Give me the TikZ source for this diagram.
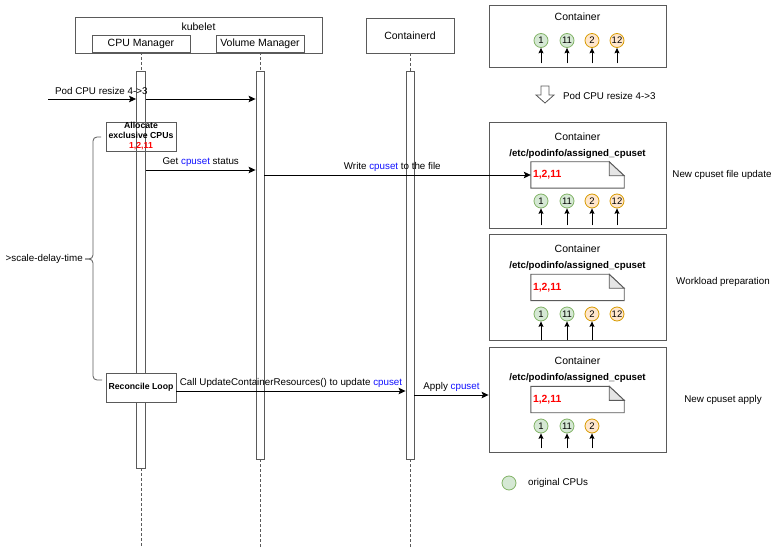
\documentclass[tikz,border=0pt]{standalone}
\usepackage{fontspec}
\setmainfont{Liberation Sans}
\usetikzlibrary{positioning,arrows.meta,calc}
\definecolor{cpugreen}{HTML}{D5E8D4}
\definecolor{cpugreenline}{HTML}{82B366}
\definecolor{cpuorange}{HTML}{FFE6CC}
\definecolor{cpuorangeline}{HTML}{D79B00}
\definecolor{linegray}{HTML}{5A5A5A}
\definecolor{cpured}{HTML}{FF0000}
\definecolor{cpublue}{HTML}{1010FF}
\newcommand{\cpusettxt}{\textcolor{cpublue}{cpuset}}

\begin{document}
\begin{tikzpicture}[
  x=1pt,y=-1pt,
  font=\fontsize{9.8}{11}\selectfont,
  hdr/.style={draw=linegray,line width=0.9pt,inner sep=0,font=\fontsize{10.5}{12}\selectfont},
  bar/.style={draw=linegray,line width=0.9pt,fill=white,inner sep=0,minimum width=9},
  life/.style={draw=linegray,line width=0.8pt,dash pattern=on 2.5pt off 2.5pt},
  act/.style={draw=linegray,line width=0.9pt,inner sep=0,minimum width=70,minimum height=29,align=center,font=\fontsize{8.7}{10}\selectfont\bfseries},
  msg/.style={draw=black,line width=0.8pt,-{Stealth[length=7pt,width=6.5pt,inset=1.5pt]}},
  cont/.style={draw=linegray,line width=0.9pt,inner sep=0,minimum width=177},
  ctitle/.style={font=\fontsize{10.5}{12}\selectfont},
  cpath/.style={font=\fontsize{9.7}{11}\selectfont\bfseries},
  note/.style={inner sep=0,minimum width=93,minimum height=26},
  notel/.style={draw=linegray,line width=0.9pt,fill=white},
  numtxt/.style={font=\fontsize{10.4}{12}\selectfont\bfseries,text=cpured,inner sep=0},
  cpuo/.style={circle,draw=cpugreenline,fill=cpugreen,line width=0.8pt,minimum size=14,inner sep=0,font=\fontsize{9.5}{10}\selectfont},
  cpun/.style={circle,draw=cpuorangeline,fill=cpuorange,line width=0.8pt,minimum size=14,inner sep=0,font=\fontsize{9.5}{10}\selectfont},
  cpuin/.style={draw=black,line width=0.8pt,-{Stealth[length=5.5pt,width=5pt,inset=1pt]}}
]
\useasboundingbox (0,0) rectangle (777,548);

% participants
\node[hdr,minimum width=247,minimum height=36] (kubelet) at (198.5,35.5) {};
\node[ctitle] (kubelettxt) at (198.5,27) {kubelet};
\node[hdr,fill=white,minimum width=98,minimum height=17] (cpumgr) at (141,43.5) {CPU Manager};
\node[hdr,fill=white,minimum width=88,minimum height=17] (volmgr) at (260,43.5) {Volume Manager};
\node[hdr,minimum width=88,minimum height=35] (ctd) at (410,35.5) {Containerd};

% lifelines
\coordinate (cpuend) at (141,548);
\coordinate (volend) at (260,548);
\coordinate (ctdend) at (410,548);
\node[bar,minimum height=397] (cpubar) at (141,269.5) {};
\node[bar,minimum height=388,minimum width=8] (volbar) at (260,265) {};
\node[bar,minimum height=388,minimum width=8] (ctdbar) at (410,265) {};
\draw[life] (cpumgr.south) -- (cpubar.north);
\draw[life] (cpubar.south) -- (cpuend);
\draw[life] (volmgr.south) -- (volbar.north);
\draw[life] (volbar.south) -- (volend);
\draw[life] (ctd.south) -- (ctdbar.north);
\draw[life] (ctdbar.south) -- (ctdend);

\node[act] (alloc) at (141,136.5) {Allocate\\exclusive CPUs\\\textcolor{cpured}{1,2,11}};
\node[act,fill=white] (recon) at (141,387.5) {Reconcile Loop};

% delay brace
\draw[draw=linegray,line width=0.8pt,rounded corners=4pt] (101,137) -- (93,137) -- (93,259) -- (85,259);
\draw[draw=linegray,line width=0.8pt,rounded corners=4pt] (102,380) -- (93,380) -- (93,259) -- (85,259);
\node[anchor=east,inner sep=0] (delay) at (83,259) {>scale-delay-time};

% messages
\coordinate (podin) at (48,99);
\node[anchor=west,inner sep=0] (podlbl) at (55,91) {Pod CPU resize 4->3};
\draw[msg] (podin) -- (cpubar.west |- podin);
\draw[msg] (cpubar.east |- podin) -- (volbar.west |- podin);
\draw[msg] (cpubar.east |- 0,170) -- node[above] {Get \cpusettxt{} status} (volbar.west |- 0,170);
\draw[msg] (recon.east |- 0,391) -- node[above] {Call UpdateContainerResources() to update \cpusettxt} (ctdbar.west |- 0,391);

% containers
\node[cont,minimum height=62] (cont0) at (577.5,36) {};
\node[ctitle] (t0) at (577.5,17) {Container};
\node[cpuo] (c01) at (541,40.5) {1};
\node[cpuo] (c011) at (567,40.5) {11};
\node[cpun] (c02) at (592,40.5) {2};
\node[cpun] (c012) at (617,40.5) {12};
\draw[cpuin] ($(c01.south |- cont0.south)+(0,-4)$) -- (c01.south);
\draw[cpuin] ($(c011.south |- cont0.south)+(0,-4)$) -- (c011.south);
\draw[cpuin] ($(c02.south |- cont0.south)+(0,-4)$) -- (c02.south);
\draw[cpuin] ($(c012.south |- cont0.south)+(0,-4)$) -- (c012.south);

\draw[draw=linegray,line width=0.8pt,fill=white] (541,86) -- (549,86) -- (549,95) -- (554,95) -- (545,103) -- (536,95) -- (541,95) -- cycle;
\node[anchor=west,inner sep=0] (resize) at (563,96) {Pod CPU resize 4->3};

\node[cont,minimum height=106] (cont1) at (577.5,175) {};
\node[ctitle] (t1) at (577.5,137) {Container};
\node[cpath] (p1) at (577.5,154) {/etc/podinfo/assigned\_cpuset};
\node[note] (note1) at (577.5,175) {};
\draw[notel] (note1.north west) -- ([xshift=-15pt]note1.north east) -- ([yshift=-14pt]note1.north east) -- (note1.south east) -- (note1.south west) -- cycle;
\draw[notel,fill=black!10] ([xshift=-15pt]note1.north east) -- ([xshift=-15pt,yshift=-14pt]note1.north east) -- ([yshift=-14pt]note1.north east) -- cycle;
\node[numtxt,anchor=west] (n1) at ([xshift=2pt]note1.west) {1,2,11};
\node[cpuo] (c11) at (541,201) {1};
\node[cpuo] (c111) at (567,201) {11};
\node[cpun] (c12) at (592,201) {2};
\node[cpun] (c112) at (617,201) {12};
\draw[cpuin] ($(c11.south |- cont1.south)+(0,-3)$) -- (c11.south);
\draw[cpuin] ($(c111.south |- cont1.south)+(0,-3)$) -- (c111.south);
\draw[cpuin] ($(c12.south |- cont1.south)+(0,-3)$) -- (c12.south);
\draw[cpuin] ($(c112.south |- cont1.south)+(0,-3)$) -- (c112.south);
\node (r1) at (722,175) {New cpuset file update};

\node[cont,minimum height=106] (cont2) at (577.5,287) {};
\node[ctitle] (t2) at (577.5,249) {Container};
\node[cpath] (p2) at (577.5,266) {/etc/podinfo/assigned\_cpuset};
\node[note] (note2) at (577.5,287.5) {};
\draw[notel] (note2.north west) -- ([xshift=-15pt]note2.north east) -- ([yshift=-14pt]note2.north east) -- (note2.south east) -- (note2.south west) -- cycle;
\draw[notel,fill=black!10] ([xshift=-15pt]note2.north east) -- ([xshift=-15pt,yshift=-14pt]note2.north east) -- ([yshift=-14pt]note2.north east) -- cycle;
\node[numtxt,anchor=west] (n2) at ([xshift=2pt]note2.west) {1,2,11};
\node[cpuo] (c21) at (541,314) {1};
\node[cpuo] (c211) at (567,314) {11};
\node[cpun] (c22) at (592,314) {2};
\node[cpun] (c212) at (617,314) {12};
\draw[cpuin] (c21.south |- cont2.south) -- (c21.south);
\draw[cpuin] (c211.south |- cont2.south) -- (c211.south);
\draw[cpuin] (c22.south |- cont2.south) -- (c22.south);
\node (r2) at (723,282) {Workload preparation};

\node[cont,minimum height=105] (cont3) at (577.5,399.5) {};
\node[ctitle] (t3) at (577.5,361) {Container};
\node[cpath] (p3) at (577.5,378) {/etc/podinfo/assigned\_cpuset};
\node[note] (note3) at (577.5,399.5) {};
\draw[notel] (note3.north west) -- ([xshift=-15pt]note3.north east) -- ([yshift=-14pt]note3.north east) -- (note3.south east) -- (note3.south west) -- cycle;
\draw[notel,fill=black!10] ([xshift=-15pt]note3.north east) -- ([xshift=-15pt,yshift=-14pt]note3.north east) -- ([yshift=-14pt]note3.north east) -- cycle;
\node[numtxt,anchor=west] (n3) at ([xshift=2pt]note3.west) {1,2,11};
\node[cpuo] (c31) at (541,426) {1};
\node[cpuo] (c311) at (567,426) {11};
\node[cpun] (c32) at (592,426) {2};
\draw[cpuin] ($(c31.south |- cont3.south)+(0,-4)$) -- (c31.south);
\draw[cpuin] ($(c311.south |- cont3.south)+(0,-4)$) -- (c311.south);
\draw[cpuin] ($(c32.south |- cont3.south)+(0,-4)$) -- (c32.south);
\node (r3) at (723,400) {New cpuset apply};

% messages to containers
\draw[msg] (volbar.east |- note1.west) -- node[above,pos=0.48] {Write \cpusettxt{} to the file} (note1.west);
\draw[msg] (ctdbar.east |- 0,395) -- node[above] {Apply \cpusettxt} (cont3.west |- 0,395);

% legend
\node[cpuo] (leg) at (509,483) {};
\node[anchor=west,inner sep=0] (legtxt) at (528,483) {original CPUs};
\end{tikzpicture}
\end{document}
